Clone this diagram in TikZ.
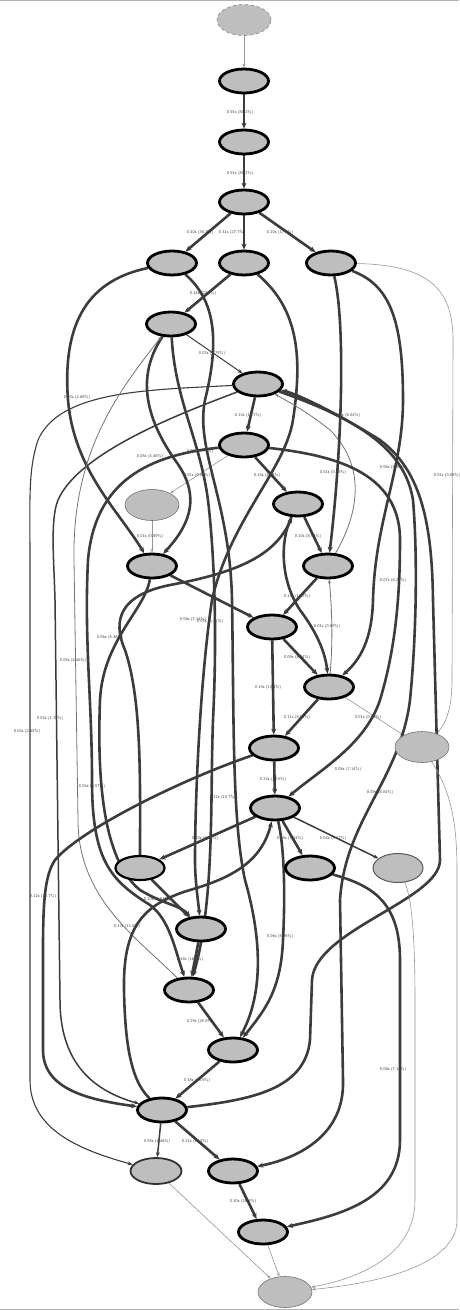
\documentclass[tikz,border=0pt]{standalone}
\usetikzlibrary{arrows.meta,shapes.geometric}
\pgfdeclarelayer{bg}
\pgfsetlayers{bg,main}
\definecolor{ng}{RGB}{190,190,190}
\definecolor{ed}{RGB}{60,60,60}
\definecolor{tg}{RGB}{150,150,150}
\begin{document}
\begin{tikzpicture}[x=1pt,y=-1pt,
 nd/.style={ellipse,draw=black,line width=2.8pt,fill=ng,minimum width=49pt,minimum height=24pt,inner sep=0pt},
 ndm/.style={nd,line width=2.2pt},
 ndt/.style={ellipse,draw=black!55,line width=0.6pt,fill=ng,minimum width=54pt,minimum height=31pt,inner sep=0pt},
 E/.style={draw=ed,line width=2.6pt,-{Stealth[length=6pt,width=5pt]}},
 M/.style={draw=ed,line width=1.5pt,-{Stealth[length=5pt,width=4pt]}},
 T/.style={draw=tg,line width=0.6pt,-{Stealth[length=4pt,width=3pt,open]}},
 lbl/.style={font=\fontsize{4.2}{5}\selectfont\sffamily,text=black!75,inner sep=0pt}]
\useasboundingbox (0,0) rectangle (459,1310);
\draw[black!30,line width=1.2pt] (0,0.6) -- (459,0.6);
\draw[black!30,line width=1.2pt] (0,1309.4) -- (459,1309.4);
% nodes
\node[ellipse,draw=black!45,dashed,line width=0.7pt,fill=ng,minimum width=54pt,minimum height=31pt] (n0) at (244,20) {};
\node[nd] (n1) at (244,81) {};
\node[nd] (n2) at (244,142) {};
\node[nd] (n3) at (244,202) {};
\node[nd] (n4a) at (172,263) {};
\node[nd] (n4b) at (244,263) {};
\node[nd] (n4c) at (331,263) {};
\node[nd] (n5) at (171,324) {};
\node[nd] (n6) at (258,384) {};
\node[nd] (n7) at (244,445) {};
\node[ndt] (n8) at (152,505) {};
\node[nd] (n9) at (298,504) {};
\node[nd] (n10) at (152,566) {};
\node[nd] (n11) at (328,566) {};
\node[nd] (n12) at (272,627) {};
\node[nd] (n13) at (329,687) {};
\node[ndt] (n14) at (422,747) {};
\node[nd] (n15) at (274,748) {};
\node[nd] (n16) at (275,808) {};
\node[ndm] (n17) at (140,868) {};
\node[nd] (n18) at (310,868) {};
\node[ndt,draw=black!65,line width=1pt,minimum width=50pt,minimum height=29pt] (n19) at (398,868) {};
\node[nd] (n20) at (201,929) {};
\node[nd] (n21) at (189,990) {};
\node[nd] (n22) at (233,1050) {};
\node[nd] (n23) at (162,1110) {};
\node[ndm,line width=1.8pt,draw=black!80,minimum width=51pt,minimum height=26pt] (n24) at (156,1171) {};
\node[nd] (n25) at (233,1171) {};
\node[nd] (n26) at (263,1232) {};
\node[ndt] (n27) at (285,1292) {};
\begin{pgfonlayer}{bg}
% spine
\draw[T] (n0) -- (n1);
\draw[E] (n1) -- (n2);
\draw[E] (n2) -- (n3);
\draw[E] (n3) -- (n4a);
\draw[E] (n3) -- (n4b);
\draw[E] (n3) -- (n4c);
\draw[E] (n4b) -- (n5);
\draw[M,line width=1pt] (n5) -- (n6);
\draw[E] (n6) -- (n7);
\draw[E] (n7) -- (n9);
\draw[T] (n7) -- (n8);
\draw[T] (n8) -- (n10);
\draw[E] (n9) -- (n11);
\draw[E] (n11) -- (n12);
\draw[E] (n10) -- (n12);
\draw[E] (n12) -- (n13);
\draw[E] (n12) -- (n15);
\draw[E] (n13) -- (n15);
\draw[T] (n13) -- (n14);
\draw[E] (n15) -- (n16);
\draw[E] (n16) -- (n17);
\draw[E] (n16) -- (n18);
\draw[M] (n16) -- (n19);
\draw[E] (n17) -- (n20);
\draw[E] (n20) -- (n21);
\draw[E] (n21) -- (n22);
\draw[E] (n22) -- (n23);
\draw[M] (n23) -- (n24);
\draw[E] (n23) -- (n25);
\draw[E] (n25) -- (n26);
\draw[T] (n26) -- (n27);
\draw[T] (n24) -- (n27);
% long edges
\draw[E] (n4a) .. controls (90,280) and (62,320) .. (68,400) .. controls (74,470) and (118,510) .. (n10);
\draw[E] (n5) .. controls (140,370) and (140,410) .. (175,460) .. controls (205,500) and (185,530) .. (n10);
\draw[E] (n5) .. controls (175,400) and (200,440) .. (208,500) .. controls (215,560) and (217,640) .. (213,720) .. controls (210,800) and (215,900) .. (n21);
\draw[E] (n4a) .. controls (215,300) and (220,340) .. (205,400) .. controls (195,450) and (230,500) .. (232,600) .. controls (234,720) and (232,820) .. (245,880) .. controls (265,950) and (260,1000) .. (n22);
\draw[E] (n4b) .. controls (300,310) and (302,360) .. (293,420) .. controls (285,470) and (230,520) .. (212,600) .. controls (200,680) and (195,800) .. (195,860) .. controls (195,880) and (198,900) .. (n20);
\draw[M,line width=1.1pt] (n6) .. controls (150,390) and (60,390) .. (38,440) .. controls (28,470) and (30,500) .. (30,560) -- (30,1080) .. controls (30,1130) and (80,1150) .. (n24);
\draw[M] (n6) .. controls (190,410) and (80,450) .. (58,500) .. controls (50,520) and (54,560) .. (55,600) -- (60,1000) .. controls (60,1060) and (90,1090) .. (n23);
\draw[T,draw=black!55,line width=0.8pt] (n21) .. controls (140,940) and (78,900) .. (78,820) -- (74,560) .. controls (72,450) and (120,390) .. (n5);
\draw[E] (n7) .. controls (150,455) and (95,480) .. (88,560) .. controls (84,640) and (92,700) .. (92,780) .. controls (92,860) and (110,880) .. (150,905) .. controls (170,920) and (175,950) .. (n21);
\draw[E] (n10) .. controls (145,610) and (103,640) .. (100,700) .. controls (97,780) and (103,860) .. (140,890) .. controls (165,905) and (180,905) .. (n20);
\draw[E] (n15) .. controls (180,780) and (80,830) .. (55,860) .. controls (45,875) and (43,900) .. (43,950) -- (43,1050) .. controls (43,1090) and (90,1100) .. (n23);
\draw[E] (n23) .. controls (130,1080) and (125,1040) .. (124,990) .. controls (123,930) and (140,905) .. (190,890) .. controls (235,877) and (262,860) .. (n16);
\draw[E] (n16) .. controls (285,850) and (285,900) .. (283,940) .. controls (281,990) and (265,1010) .. (n22);
\draw[E] (n17) .. controls (140,780) and (142,700) .. (125,650) .. controls (112,620) and (120,595) .. (170,585) .. controls (240,572) and (275,555) .. (n9);
\draw[E] (n9) .. controls (280,540) and (280,580) .. (300,610) .. controls (315,630) and (325,650) .. (n13);
\draw[T,draw=black!55,line width=0.8pt] (n11) .. controls (355,520) and (370,470) .. (330,430) .. controls (305,410) and (285,400) .. (n6);
\draw[T,draw=black!55,line width=0.8pt] (n13) .. controls (333,640) and (332,610) .. (n11);
\draw[E] (n4c) .. controls (345,320) and (343,440) .. (n11);
\draw[E] (n4c) .. controls (390,285) and (403,320) .. (403,400) .. controls (403,470) and (375,520) .. (373,600) .. controls (372,640) and (360,660) .. (n13);
\draw[T] (n4c) .. controls (430,265) and (453,290) .. (453,340) -- (452,680) .. controls (452,710) and (445,725) .. (n14);
\draw[E] (n6) .. controls (360,420) and (405,450) .. (413,500) .. controls (418,560) and (416,640) .. (410,700) .. controls (400,780) and (345,820) .. (340,900) -- (343,1080) .. controls (345,1140) and (290,1160) .. (n25);
\draw[E] (n23) .. controls (250,1100) and (305,1090) .. (310,1040) -- (312,980) .. controls (315,930) and (440,900) .. (440,860) -- (433,600) .. controls (432,520) and (420,470) .. (380,440) .. controls (340,415) and (300,395) .. (n6);
\draw[E] (n7) .. controls (330,455) and (400,470) .. (400,540) .. controls (400,600) and (395,650) .. (380,700) .. controls (365,745) and (320,770) .. (n16);
\draw[E] (n18) .. controls (370,885) and (400,900) .. (400,960) -- (400,1140) .. controls (400,1200) and (340,1215) .. (n26);
\draw[T] (n19) .. controls (413,900) and (415,950) .. (415,1000) -- (415,1200) .. controls (415,1260) and (350,1280) .. (n27);
\draw[T] (n14) .. controls (450,790) and (457,820) .. (457,870) -- (457,1220) .. controls (457,1270) and (360,1285) .. (n27);
\end{pgfonlayer}
% labels
\node[lbl] (t1) at (240,112) {0.91s (81.2\%)};
\node[lbl] (t2) at (240,173) {0.91s (81.2\%)};
\node[lbl] (t3) at (200,232) {0.40s (35.7\%)};
\node[lbl] (t4) at (232,232) {0.31s (27.7\%)};
\node[lbl] (t5) at (280,232) {0.20s (17.9\%)};
\node[lbl] (t6) at (203,293) {0.31s (27.7\%)};
\node[lbl] (t7) at (212,353) {0.02s (1.79\%)};
\node[lbl] (t8) at (248,415) {0.12s (10.7\%)};
\node[lbl] (t9) at (347,415) {0.09s (8.04\%)};
\node[lbl] (t10) at (77,397) {0.03s (2.68\%)};
\node[lbl] (t11) at (150,456) {0.05s (4.46\%)};
\node[lbl] (t12) at (200,451) {0.02s (1.79\%)};
\node[lbl] (t13) at (197,475) {0.01s (0.89\%)};
\node[lbl] (t14) at (267,475) {0.10s (8.93\%)};
\node[lbl] (t15) at (333,472) {0.01s (0.89\%)};
\node[lbl] (t16) at (393,467) {0.06s (5.36\%)};
\node[lbl] (t17) at (447,475) {0.01s (0.89\%)};
\node[lbl] (t18) at (150,536) {0.01s (0.89\%)};
\node[lbl] (t19) at (308,536) {0.10s (8.93\%)};
\node[lbl] (t20) at (393,580) {0.07s (6.25\%)};
\node[lbl] (t21) at (297,596) {0.14s (12.5\%)};
\node[lbl] (t22) at (327,626) {0.01s (0.89\%)};
\node[lbl] (t23) at (193,619) {0.08s (7.14\%)};
\node[lbl] (t24) at (210,621) {0.07s (6.25\%)};
\node[lbl] (t25) at (110,637) {0.06s (5.36\%)};
\node[lbl] (t26) at (73,660) {0.05s (4.46\%)};
\node[lbl] (t27) at (297,657) {0.09s (8.04\%)};
\node[lbl] (t28) at (268,687) {0.15s (13.4\%)};
\node[lbl] (t29) at (297,717) {0.11s (9.82\%)};
\node[lbl] (t30) at (368,717) {0.01s (0.89\%)};
\node[lbl] (t31) at (50,718) {0.02s (1.79\%)};
\node[lbl] (t32) at (27,731) {0.03s (2.68\%)};
\node[lbl] (t33) at (92,786) {0.04s (3.57\%)};
\node[lbl] (t34) at (273,779) {0.22s (19.6\%)};
\node[lbl] (t35) at (223,797) {0.12s (10.7\%)};
\node[lbl] (t36) at (348,769) {0.08s (7.14\%)};
\node[lbl] (t37) at (380,792) {0.09s (8.04\%)};
\node[lbl] (t38) at (205,838) {0.10s (8.93\%)};
\node[lbl] (t39) at (290,838) {0.08s (7.14\%)};
\node[lbl] (t40) at (333,838) {0.04s (3.57\%)};
\node[lbl] (t41) at (43,896) {0.12s (10.7\%)};
\node[lbl] (t42) at (157,899) {0.10s (8.93\%)};
\node[lbl] (t43) at (127,926) {0.13s (11.6\%)};
\node[lbl] (t44) at (280,936) {0.06s (5.36\%)};
\node[lbl] (t45) at (190,959) {0.18s (16.1\%)};
\node[lbl] (t46) at (200,1021) {0.29s (25.9\%)};
\node[lbl] (t47) at (393,1069) {0.08s (7.14\%)};
\node[lbl] (t48) at (197,1080) {0.38s (33.9\%)};
\node[lbl] (t49) at (157,1141) {0.05s (4.46\%)};
\node[lbl] (t50) at (195,1141) {0.21s (18.8\%)};
\node[lbl] (t51) at (243,1201) {0.30s (26.8\%)};
\end{tikzpicture}
\end{document}
